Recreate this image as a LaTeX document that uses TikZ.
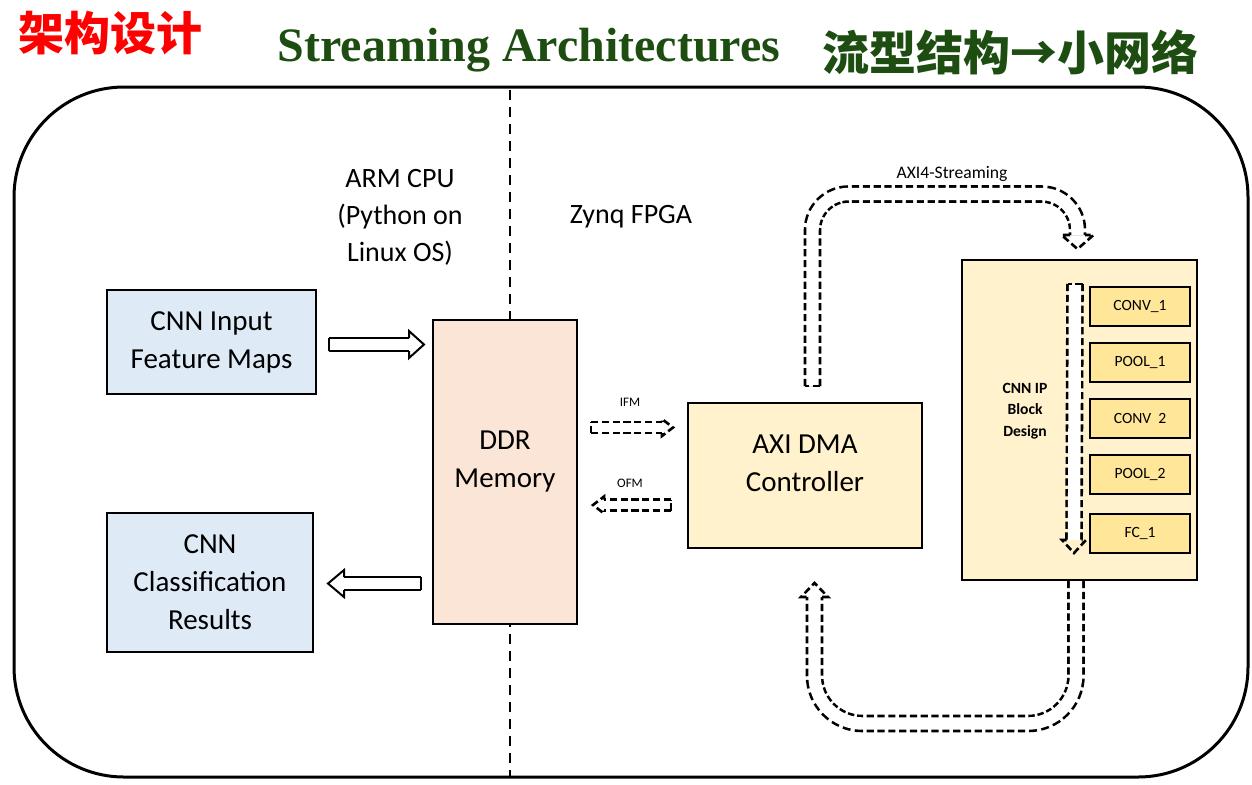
\documentclass[tikz,border=0pt]{standalone}
\usepackage{fontspec}
\setmainfont{Carlito}
\newfontfamily\titlefont{Liberation Serif}
\newfontfamily\cjk{Noto Sans CJK SC}
\usetikzlibrary{calc}
\definecolor{ttlgreen}{HTML}{1E4D12}
\definecolor{cpublue}{HTML}{DEEBF7}
\definecolor{ddrpeach}{HTML}{FBE5D6}
\definecolor{pllight}{HTML}{FFF2CC}
\definecolor{plstage}{HTML}{FFE699}
\tikzset{
  lbl/.style={align=center, inner sep=0pt, font=\fontsize{14.5}{19}\selectfont},
  box/.style={lbl, draw=black, line width=1pt},
  stage/.style={draw=black, line width=1pt, fill=plstage, minimum width=50pt, minimum height=19.5pt,
                inner sep=0pt, font=\fontsize{7.8}{9}\selectfont},
  tag/.style={inner sep=0pt, font=\fontsize{6.5}{8}\selectfont},
  dline/.style={line width=1.3pt, dash pattern=on 3.6pt off 1.8pt},
  fat/.style={double=white, double distance=5.5pt, line width=1pt},
  dfat/.style={line width=8.8pt, dash pattern=on 3.6pt off 1.8pt, postaction={draw=white, solid, line width=6.2pt}},
  sfat/.style={line width=6.8pt, dash pattern=on 3.6pt off 1.8pt, postaction={draw=white, solid, line width=4.2pt}},
  pics/ohead/.style args={#1/#2/#3}{code={\draw (0,#1) -- (0,#2) -- (#3,0) -- (0,-#2) -- (0,-#1);}},
  pics/ocap/.style={code={\draw (0,#1) -- (0,-#1);}},
}
\begin{document}
\begin{tikzpicture}[x=0.5pt, y=-0.5pt]
  \useasboundingbox (0,0) rectangle (1252,784);

  % titles
  \node[anchor=west, text=red, inner sep=0pt, font=\cjk\bfseries\fontsize{23}{26}\selectfont] (tleft) at (18,33) {架构设计};
  \node[text=ttlgreen, inner sep=0pt, font=\titlefont\bfseries\fontsize{24}{28}\selectfont] (ttl) at (529,50) {Streaming Architectures};
  \node[text=ttlgreen, inner sep=0pt, font=\cjk\bfseries\fontsize{23.5}{26}\selectfont] (tright) at (1010,52) {流型结构→小网络};

  % frame and CPU/FPGA split
  \draw[line width=1.5pt, rounded corners=55pt] (14,87) rectangle (1248,777);
  \draw[line width=1pt, dash pattern=on 5pt off 3.5pt] (510,90) -- (510,777);
  \node[lbl, font=\fontsize{14}{18.5}\selectfont] (arm) at (400,217) {ARM CPU\\(Python on\\Linux OS)};
  \node[lbl, font=\fontsize{14}{18.5}\selectfont] (zynq) at (631,217) {Zynq FPGA};

  % blocks
  \node[box, fill=cpublue, minimum width=104.5pt, minimum height=52pt] (fmap) at (211.5,342) {CNN Input\\Feature Maps};
  \node[box, fill=cpublue, minimum width=103pt, minimum height=69.5pt] (result) at (210,582.5) {CNN\\Classification\\Results};
  \node[box, fill=ddrpeach, minimum width=72pt, minimum height=152pt] (ddr) at (505,472) {};
  \node[lbl] (ddrtxt) at (505,462) {DDR\\Memory};
  \node[box, fill=pllight, minimum width=117pt, minimum height=72.5pt] (dma) at (805,475.5) {};
  \node[lbl] (dmatxt) at (805,463.5) {AXI DMA\\Controller};
  \node[box, fill=pllight, minimum width=117.5pt, minimum height=160pt] (ip) at (1079.5,420) {};
  \node[lbl, font=\bfseries\fontsize{7.8}{10.75}\selectfont] (iptxt) at (1025,411) {CNN IP\\Block\\Design};
  \foreach \n/\t/\y in {c1/CONV\_1/306.5, p1/POOL\_1/362.5, c2/CONV~~2/418.5, p2/POOL\_2/474.5, fc/FC\_1/533.5}
    \node[stage] (\n) at (1140,\y) {\t};

  % host side arrows
  \coordinate (inA) at ($(fmap.east)+(12,2.5)$);
  \coordinate (inB) at ($(inA -| ddr.west)+(-23,0)$);
  \draw[fat] (inA) -- (inB);
  \pic[line width=1pt] at (inB) {ohead=6.5/13.5/15};
  \pic[line width=1pt] at (inA) {ocap=6.5};
  \coordinate (outA) at ($(ddr.west |- result.east)+(-11,1)$);
  \coordinate (outB) at ($(result.east)+(30,1)$);
  \draw[fat] (outA) -- (outB);
  \pic[line width=1pt, rotate=180] at (outB) {ohead=6.5/13.5/16};
  \pic[line width=1pt] at (outA) {ocap=6.5};

  % IFM / OFM
  \node[tag] (ifm) at (630,402) {IFM};
  \node[tag] (ofm) at (630,483) {OFM};
  \coordinate (ifmA) at ($(ddr.east)+(13,-44.5)$);
  \coordinate (ifmB) at ($(dma.west)+(-25,-48)$);
  \draw[sfat] (ifmA) -- (ifmB);
  \pic[dline] at (ifmB) {ohead=5.5/8.5/11};
  \pic[dline] at (ifmA) {ocap=5.5};
  \coordinate (ofmA) at ($(dma.west)+(-16,29.5)$);
  \coordinate (ofmB) at ($(ddr.east)+(26,33)$);
  \draw[sfat] (ofmA) -- (ofmB);
  \pic[dline, rotate=180] at (ofmB) {ohead=5.5/8.5/11};
  \pic[dline] at (ofmA) {ocap=5.5};

  % AXI4-Streaming loop
  \node[tag, font=\fontsize{8.8}{10}\selectfont] (axil) at (952,174) {AXI4-Streaming};
  \coordinate (axs) at ($(dma.north)+(7.5,-16)$);
  \coordinate (axe) at ($(ip.north)+(-2,-24)$);
  \draw[dfat, rounded corners=18pt] (axs) |- (945,194) -| (axe);
  \pic[dline, rotate=-90] at (axe) {ohead=7.5/16/14};
  \pic[dline, rotate=90] at (axs) {ocap=7.5};
  \coordinate (bks) at ($(ip.south)+(-3.5,0)$);
  \coordinate (bke) at ($(dma.south)+(9.5,48)$);
  \draw[dfat, rounded corners=24pt] (bks) |- (945,723.5) -| (bke);
  \pic[dline, rotate=90] at (bke) {ohead=7.5/13.5/14};

  % flow through the IP stages
  \coordinate (ipA) at ($(ip.north)+(-4.5,25)$);
  \coordinate (ipB) at ($(fc.west)+(-15,6.5)$);
  \draw[dfat] (ipA) -- (ipB);
  \pic[dline, rotate=-90] at (ipB) {ohead=7.5/12/13};
  \pic[dline, rotate=90] at (ipA) {ocap=7.5};
\end{tikzpicture}
\end{document}
